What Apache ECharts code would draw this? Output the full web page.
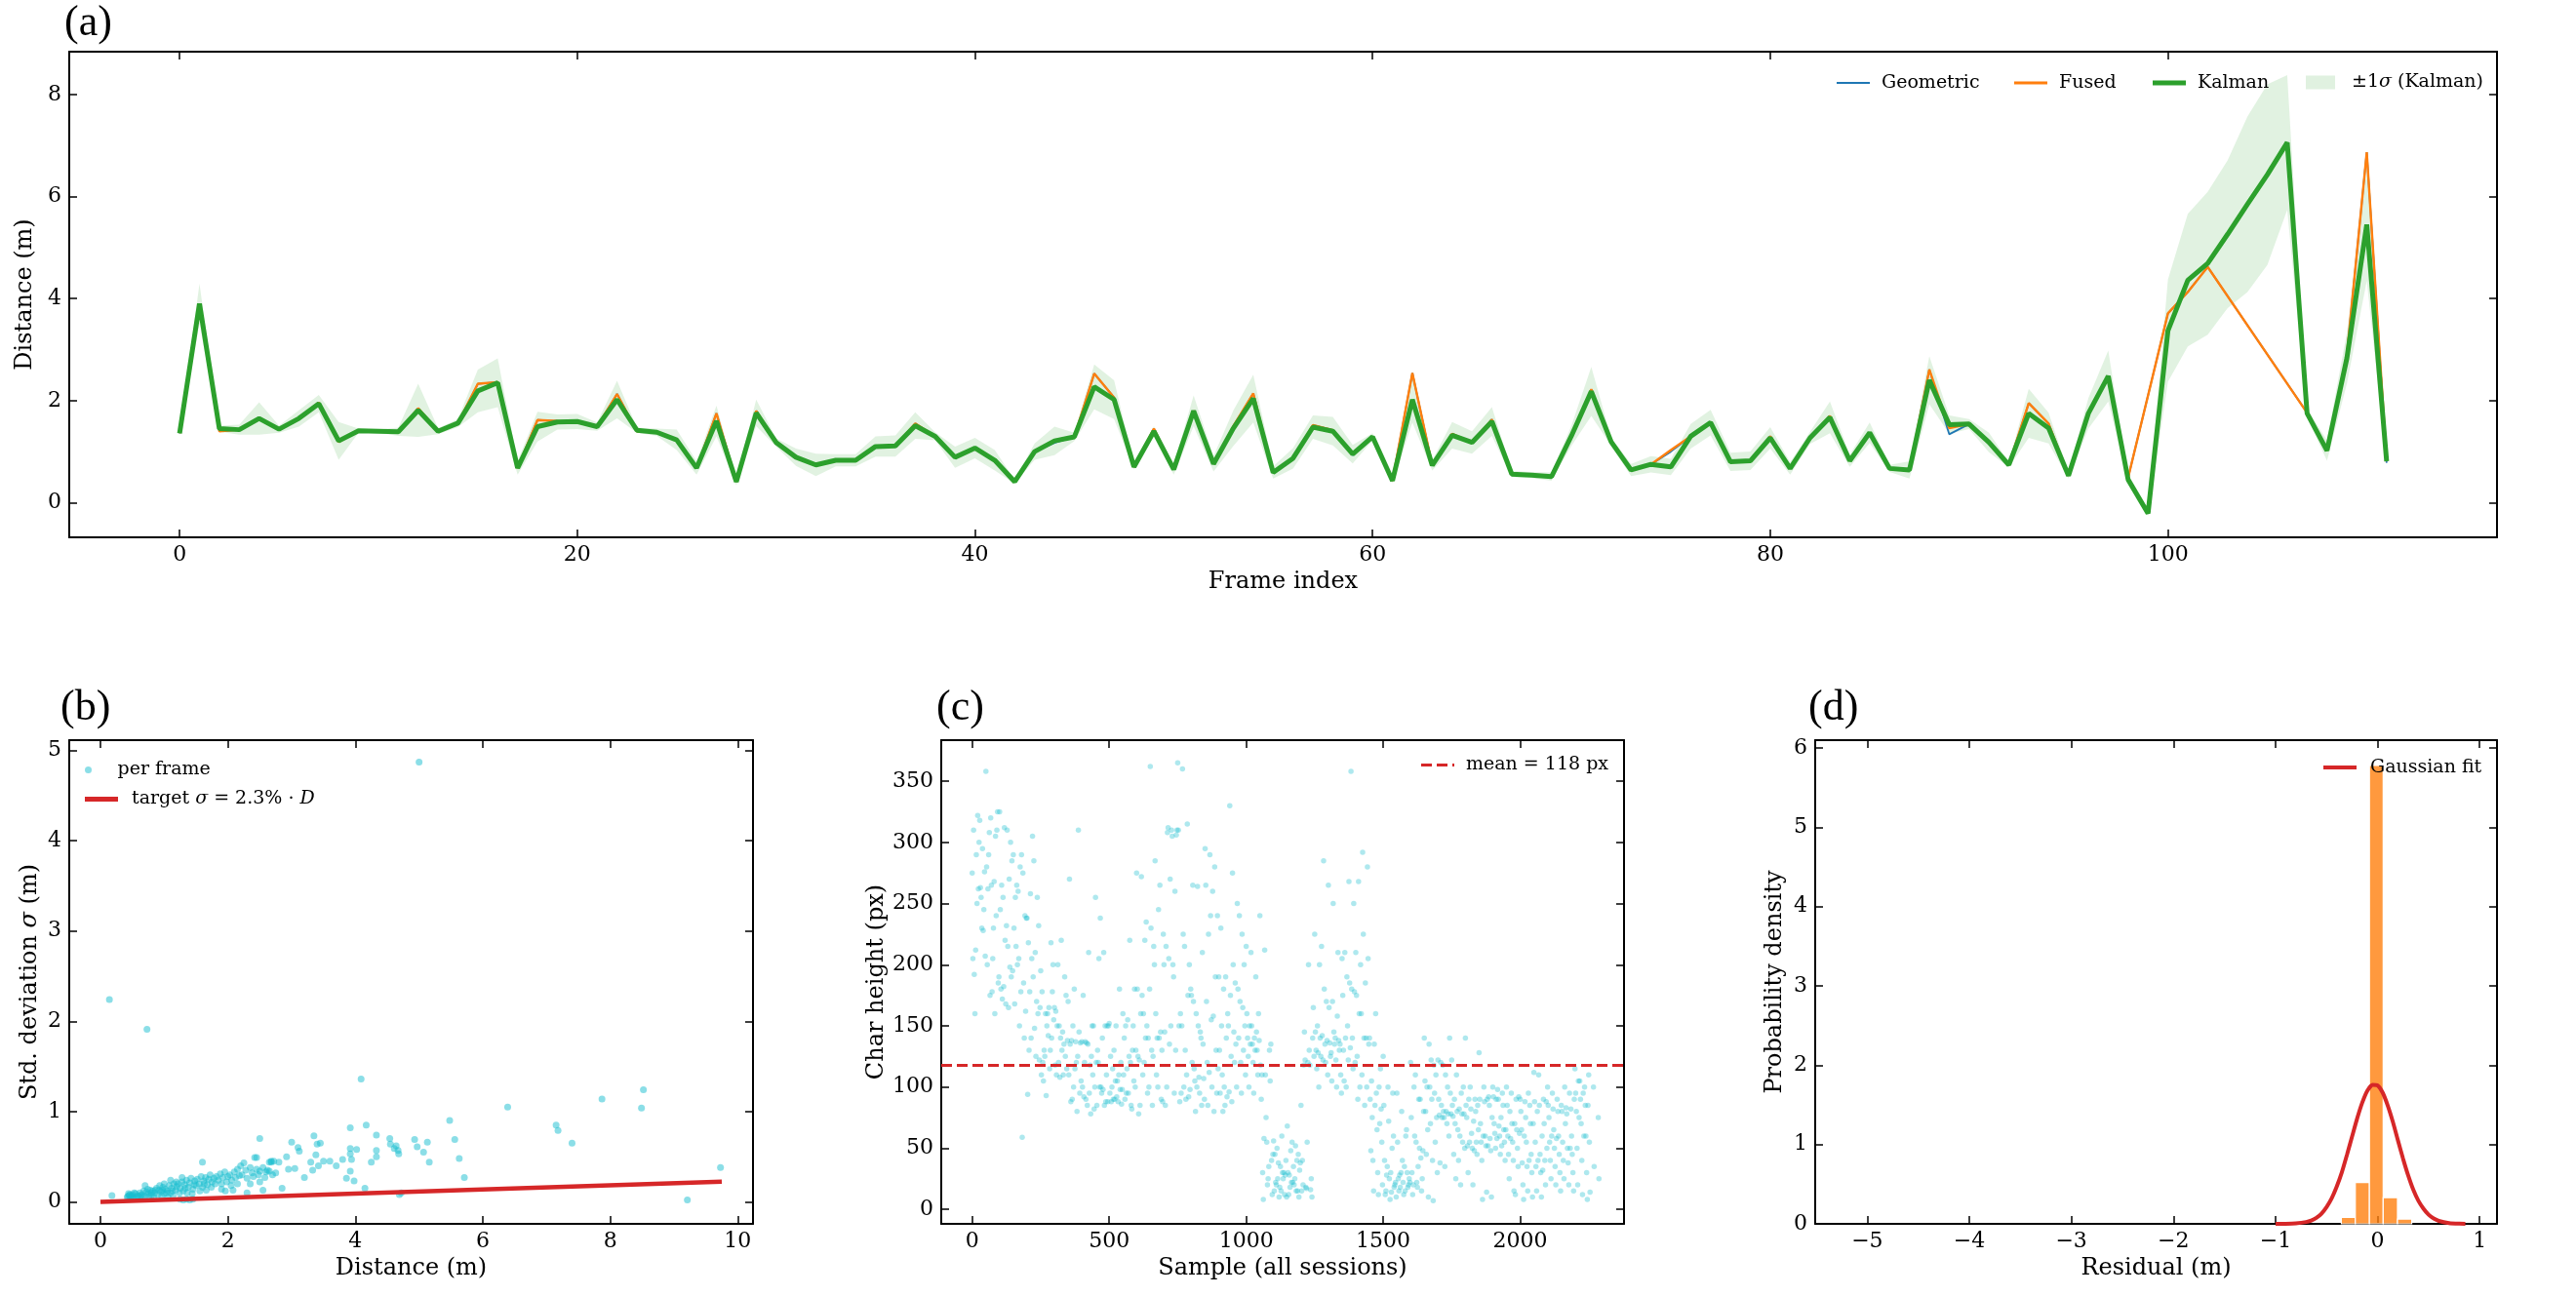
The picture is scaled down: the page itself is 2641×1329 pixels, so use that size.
<!DOCTYPE html>
<html>
<head>
<meta charset="utf-8">
<title>Distance estimation figure</title>
<script src="https://cdn.jsdelivr.net/npm/echarts@6/dist/echarts.min.js"></script>
<style>
html, body { margin: 0; padding: 0; background: #fff; }
#chart { width: 2641px; height: 1329px; }
</style>
</head>
<body>
<div id="chart"></div>
<script>
// ---------- (a) distance per frame ----------
const kalman = [
  1.36, 3.90, 1.45, 1.43, 1.65, 1.44, 1.65, 1.94, 1.21, 1.41,
  1.40, 1.39, 1.81, 1.40, 1.56, 2.19, 2.35, 0.68, 1.49, 1.58,
  1.59, 1.49, 2.02, 1.42, 1.38, 1.23, 0.68, 1.60, 0.41, 1.76,
  1.18, 0.89, 0.74, 0.83, 0.83, 1.10, 1.11, 1.51, 1.30, 0.89,
  1.07, 0.83, 0.41, 1.00, 1.21, 1.29, 2.27, 2.02, 0.70, 1.40,
  0.65, 1.80, 0.76, 1.46, 2.04, 0.59, 0.87, 1.48, 1.40, 0.95,
  1.29, 0.43, 2.02, 0.73, 1.32, 1.18, 1.59, 0.56, 0.54, 0.51,
  1.31, 2.18, 1.19, 0.64, 0.75, 0.70, 1.30, 1.57, 0.80, 0.82,
  1.27, 0.67, 1.27, 1.67, 0.82, 1.37, 0.67, 0.64, 2.40, 1.53,
  1.54, 1.18, 0.74, 1.75, 1.46, 0.53, 1.75, 2.48, 0.45, -0.21,
  3.37, 4.36, 4.69, 5.26, 5.85, 6.43, 7.06, 1.75, 1.02, 2.83,
  5.45, 0.81
];
const kalmanSigma = [
  0.05, 0.39, 0.06, 0.10, 0.32, 0.07, 0.16, 0.17, 0.37, 0.04,
  0.03, 0.08, 0.52, 0.06, 0.08, 0.42, 0.48, 0.13, 0.29, 0.15,
  0.15, 0.08, 0.37, 0.05, 0.07, 0.20, 0.13, 0.30, 0.07, 0.26,
  0.08, 0.17, 0.22, 0.12, 0.12, 0.20, 0.21, 0.26, 0.08, 0.21,
  0.20, 0.20, 0.04, 0.16, 0.28, 0.08, 0.44, 0.38, 0.05, 0.10,
  0.10, 0.30, 0.15, 0.35, 0.47, 0.12, 0.20, 0.23, 0.28, 0.18,
  0.07, 0.05, 0.45, 0.10, 0.26, 0.22, 0.28, 0.06, 0.06, 0.08,
  0.20, 0.48, 0.08, 0.12, 0.16, 0.16, 0.24, 0.25, 0.18, 0.18,
  0.21, 0.12, 0.12, 0.31, 0.12, 0.20, 0.07, 0.17, 0.47, 0.18,
  0.10, 0.19, 0.05, 0.48, 0.30, 0.06, 0.30, 0.50, 0.05, 0.05,
  1.00, 1.30, 1.40, 1.45, 1.72, 1.77, 1.32, 0.08, 0.20, 0.50,
  1.10, 0.05
];
// null = frame without a fused / geometric estimate (line goes straight across)
const fused = [
  1.36, 3.90, 1.40, 1.43, 1.65, 1.44, 1.65, 1.96, 1.19, 1.41,
  1.40, 1.39, 1.85, 1.40, 1.56, 2.33, 2.36, 0.68, 1.62, 1.60,
  1.59, 1.49, 2.13, 1.40, 1.38, 1.23, 0.68, 1.75, 0.41, 1.80,
  1.18, 0.89, 0.74, 0.83, 0.83, 1.10, 1.11, 1.55, 1.30, 0.89,
  1.07, 0.83, 0.41, 1.00, 1.21, 1.29, 2.53, 2.06, 0.70, 1.45,
  0.65, 1.80, 0.76, 1.50, 2.14, 0.59, 0.87, 1.52, 1.42, 0.95,
  1.29, 0.43, 2.54, 0.73, 1.35, 1.18, 1.63, 0.56, 0.54, 0.51,
  1.31, 2.22, 1.19, 0.64, 0.75, 1.03, 1.30, 1.57, 0.80, 0.82,
  1.30, 0.67, 1.27, 1.70, 0.82, 1.37, 0.67, 0.64, 2.61, 1.46,
  1.54, 1.18, 0.74, 1.95, 1.55, 0.53, 1.75, 2.48, 0.49, null,
  3.71, 4.13, 4.62, null, null, null, null, 1.76, 1.02, 2.90,
  6.87, 0.81
];
const geometric = [
  1.36, 3.90, 1.40, 1.43, 1.65, 1.44, 1.65, 1.96, 1.19, 1.41,
  1.40, 1.39, 1.85, 1.40, 1.56, 2.33, 2.36, 0.68, 1.62, 1.60,
  1.59, 1.49, 2.13, 1.40, 1.38, 1.23, 0.68, 1.75, 0.41, 1.80,
  1.18, 0.89, 0.74, 0.83, 0.83, 1.10, 1.11, 1.55, 1.30, 0.89,
  1.07, 0.83, 0.41, 1.00, 1.17, 1.29, 2.53, 2.06, 0.70, 1.45,
  0.65, 1.80, 0.76, 1.50, 2.14, 0.59, 0.87, 1.52, 1.42, 0.93,
  1.29, 0.43, 2.54, 0.73, 1.35, 1.18, 1.63, 0.56, 0.54, 0.51,
  1.31, 2.22, 1.19, 0.64, 0.75, 1.00, 1.30, 1.57, 0.80, 0.82,
  1.30, 0.67, 1.27, 1.70, 0.82, 1.37, 0.67, 0.64, 2.61, 1.34,
  1.54, 1.18, 0.74, 1.95, 1.55, 0.53, 1.75, 2.48, 0.49, null,
  3.71, 4.13, 4.62, null, null, null, null, 1.76, 1.02, 2.90,
  6.87, 0.78
];
const frameTicks = [0, 20, 40, 60, 80, 100];
const distTicks = [0, 2, 4, 6, 8];

// ---------- (b) std deviation vs distance ----------
const stdPoints = [
  [0.14, 2.24], [0.73, 1.91], [5.0, 4.87], [4.09, 1.36], [6.39, 1.05], [7.87, 1.14], [8.52, 1.24], [8.49, 1.04],
  [7.15, 0.85], [7.18, 0.79], [7.4, 0.65], [5.48, 0.9], [5.56, 0.69], [5.63, 0.48], [5.71, 0.27], [9.73, 0.38], [9.21, 0.02],
  [4.93, 0.69], [4.97, 0.61], [5.07, 0.55], [5.13, 0.66], [5.16, 0.44], [4.17, 0.85], [3.92, 0.82], [4.33, 0.74],
  [4.54, 0.7], [4.55, 0.64], [4.61, 0.59], [4.64, 0.62], [4.67, 0.57], [4.68, 0.53], [4.33, 0.57], [4.33, 0.5],
  [4.25, 0.44], [4.02, 0.58], [3.92, 0.59], [3.92, 0.53], [3.94, 0.47], [3.92, 0.34], [3.86, 0.26], [3.98, 0.23],
  [4.15, 0.15], [4.69, 0.08], [4.72, 0.1],
  [3.35, 0.73], [3.0, 0.66], [3.1, 0.6], [3.12, 0.56], [3.4, 0.64], [3.45, 0.65], [3.38, 0.52], [3.3, 0.44],
  [3.5, 0.45], [3.6, 0.45], [3.42, 0.4], [3.33, 0.35], [3.2, 0.27], [3.8, 0.47], [3.7, 0.4], [3.05, 0.37],
  [2.5, 0.7], [2.45, 0.49], [2.8, 0.44], [2.92, 0.5], [2.85, 0.15], [2.55, 0.13], [2.68, 0.45], [2.72, 0.45],
  [2.95, 0.36], [2.65, 0.34], [2.75, 0.32], [1.6, 0.44], [0.18, 0.07],
  [0.42, 0.05], [0.45, 0.07], [0.48, 0.06], [0.5, 0.08], [0.52, 0.05], [0.55, 0.09], [0.58, 0.07], [0.6, 0.06],
  [0.44, 0.09], [0.47, 0.04], [0.53, 0.1], [0.57, 0.05], [0.43, 0.06], [0.5, 0.06], [0.46, 0.08],
  [0.62, 0.1], [0.65, 0.08], [0.68, 0.12], [0.7, 0.06], [0.72, 0.11], [0.75, 0.09], [0.78, 0.13], [0.8, 0.07],
  [0.82, 0.12], [0.85, 0.1], [0.88, 0.15], [0.9, 0.08], [0.66, 0.05], [0.74, 0.14], [0.84, 0.05], [0.7, 0.18],
  [0.63, 0.07], [0.76, 0.06], [0.86, 0.13], [0.8, 0.1],
  [0.92, 0.13], [0.95, 0.11], [0.98, 0.16], [1.0, 0.09], [1.02, 0.14], [1.05, 0.12], [1.08, 0.18], [1.1, 0.1],
  [1.12, 0.15], [1.15, 0.2], [1.18, 0.13], [1.2, 0.17], [0.96, 0.06], [1.06, 0.05], [1.14, 0.07], [1.0, 0.2],
  [1.1, 0.24], [0.93, 0.18], [0.97, 0.13], [1.04, 0.1], [1.13, 0.12], [1.19, 0.22],
  [1.22, 0.2], [1.25, 0.15], [1.28, 0.22], [1.3, 0.12], [1.32, 0.19], [1.35, 0.24], [1.38, 0.16], [1.4, 0.21],
  [1.42, 0.26], [1.45, 0.14], [1.48, 0.23], [1.5, 0.18], [1.25, 0.03], [1.3, 0.02], [1.35, 0.03], [1.4, 0.02],
  [1.45, 0.03], [1.28, 0.27], [1.36, 0.1], [1.44, 0.09], [1.24, 0.1], [1.33, 0.15], [1.47, 0.19],
  [1.52, 0.25], [1.55, 0.2], [1.58, 0.28], [1.6, 0.16], [1.62, 0.23], [1.65, 0.27], [1.68, 0.19], [1.7, 0.25],
  [1.72, 0.3], [1.75, 0.22], [1.78, 0.26], [1.8, 0.2], [1.56, 0.12], [1.66, 0.13], [1.74, 0.16], [1.63, 0.2],
  [1.82, 0.28], [1.85, 0.24], [1.88, 0.31], [1.9, 0.2], [1.92, 0.27], [1.95, 0.33], [1.98, 0.22], [2.0, 0.28],
  [2.03, 0.3], [2.06, 0.24], [2.1, 0.33], [2.12, 0.27], [2.15, 0.36], [2.18, 0.29], [2.2, 0.4], [1.9, 0.14],
  [2.05, 0.18], [2.15, 0.2], [1.96, 0.12], [2.08, 0.13],
  [2.22, 0.3], [2.25, 0.43], [2.28, 0.35], [2.3, 0.26], [2.35, 0.38], [2.38, 0.32], [2.4, 0.28], [2.45, 0.36],
  [2.48, 0.3], [2.5, 0.34], [2.55, 0.38], [2.6, 0.33], [2.62, 0.35], [2.65, 0.44], [2.68, 0.44], [2.7, 0.3],
  [2.3, 0.1], [2.42, 0.49], [2.5, 0.22], [2.58, 0.27], [2.35, 0.2]
];
const targetX = [0, 9.75];
const targetY = [0, 0.224];
const bTicksX = [0, 2, 4, 6, 8, 10];
const bTicksY = [0, 1, 2, 3, 4, 5];

// ---------- (c) char height per sample ----------
const sampleStep = 2.5;          // one value every 2.5 samples
const blockLen = 20;             // values per 50-sample block
const slotOrder = [0, 7, 14, 1, 8, 15, 2, 9, 16, 3, 10, 17, 4, 11, 18, 5, 12, 19, 6, 13];
const charHeight = [
  275,250,230,205,322,295,310,262,228,192,300,245,160,318,276,212,263,207,290,255,
  358,320,305,280,265,240,200,178,310,262,205,325,290,230,185,308,268,190,175,160,
  325,312,270,245,220,198,180,168,300,265,232,190,172,310,285,255,215,195,182,165,
  290,260,275,230,205,185,168,150,140,255,280,240,215,178,162,265,290,238,200,59,
  238,205,170,94,305,255,218,190,160,130,285,232,178,148,122,258,210,165,140,125,
  195,160,130,110,93,218,178,150,140,120,160,178,105,142,200,130,165,155,125,115,
  165,150,135,118,108,190,162,140,125,110,220,175,150,130,115,200,145,138,120,110,
  170,150,125,110,100,310,270,180,145,135,115,95,88,137,136,138,120,105,90,80,
  137,136,125,100,85,150,175,135,110,92,210,150,120,95,82,137,118,100,90,78,
  255,238,150,120,100,88,85,95,110,130,140,150,120,98,88,205,210,150,100,85,
  152,130,110,95,90,180,125,105,98,88,150,120,100,92,86,115,105,98,90,88,
  160,155,130,110,95,150,140,125,105,90,220,180,150,120,100,95,85,130,115,82,
  275,272,235,180,175,150,125,110,95,78,160,140,122,120,100,85,220,180,160,140,
  362,285,265,230,160,145,130,110,90,85,140,130,125,100,88,215,245,225,200,140,
  200,205,190,145,135,95,85,270,260,215,150,130,100,310,306,308,305,310,312,200,
  365,360,315,310,225,175,150,100,92,88,215,200,160,130,98,95,90,180,150,110,
  175,160,140,120,100,85,265,264,210,170,150,135,115,108,107,105,95,90,80,145,
  295,290,280,265,240,190,170,155,130,120,100,95,85,260,240,225,158,115,112,80,
  190,180,150,130,100,96,95,85,330,230,190,175,150,140,125,110,92,88,80,160,
  275,250,225,200,180,165,145,140,130,120,240,200,185,170,150,135,120,110,100,95,
  215,210,190,160,150,145,140,135,130,125,120,110,100,95,160,150,140,138,135,130,
  240,212,130,118,110,105,90,75,135,110,55,40,30,20,12,8,25,45,58,35,
  56,38,25,15,10,30,45,18,12,22,35,28,20,15,40,50,60,10,25,30,
  68,55,40,30,22,15,12,35,45,28,20,10,18,25,32,48,52,38,22,15,
  85,18,16,15,17,25,40,55,10,20,120,140,118,200,165,145,130,125,122,118,
  225,200,180,145,140,135,130,125,120,115,215,170,150,142,138,128,122,110,100,285,
  265,250,210,165,145,138,136,135,130,125,140,135,128,122,110,105,100,95,170,158,
  205,190,180,175,150,140,130,122,115,105,268,250,210,185,178,140,132,120,100,358,
  210,200,185,175,160,140,125,110,100,90,292,280,268,225,205,160,140,135,100,85,
  140,135,100,90,85,70,48,160,115,105,95,82,75,65,55,40,30,20,15,12,
  125,100,95,85,72,60,40,25,18,12,8,20,15,30,22,28,14,10,35,50,
  95,80,65,55,40,30,25,22,18,15,12,20,28,35,25,18,15,22,30,60,
  120,110,90,75,55,42,30,22,15,12,18,25,20,35,48,100,90,80,60,50,
  140,135,118,105,100,95,80,70,55,45,122,110,100,90,75,65,40,30,10,7,
  122,118,100,90,80,78,77,75,60,38,35,140,120,110,95,85,80,78,75,70,
  122,110,95,85,80,78,76,65,55,45,40,100,90,82,78,70,60,50,25,20,
  140,100,90,85,82,80,75,62,55,52,50,45,30,20,85,90,72,65,55,48,
  128,100,92,90,88,85,70,60,58,55,52,48,40,14,10,8,90,75,60,52,
  100,98,95,92,90,85,70,68,65,62,60,55,50,45,40,90,75,65,58,52,
  100,95,90,85,70,65,60,55,50,45,40,35,25,15,92,80,70,62,58,12,
  90,88,85,80,75,70,65,55,45,38,35,30,20,15,10,8,95,70,60,40,
  112,110,90,88,85,70,55,45,40,35,30,20,15,10,88,80,60,50,40,32,
  100,95,90,85,82,80,75,65,60,55,50,45,40,35,30,25,20,15,60,58,
  85,83,82,80,78,60,55,50,45,40,38,30,25,20,15,100,95,90,70,50,
  115,105,100,95,90,85,80,70,60,50,40,30,20,12,8,105,95,85,75,60,
  110,100,75,55,35,25,14
];
const meanHeight = 118;
const cTicksX = [0, 500, 1000, 1500, 2000];
const cTicksY = [0, 50, 100, 150, 200, 250, 300, 350];

// ---------- (d) residual histogram ----------
// [left edge, right edge, density]
const histBins = [
  [-0.355, -0.218, 0.08],
  [-0.218, -0.080, 0.52],
  [-0.080, 0.055, 5.78],
  [0.055, 0.195, 0.33],
  [0.195, 0.335, 0.06]
];
const fitX = [-1.0, -0.9, -0.8, -0.7, -0.65, -0.6, -0.55, -0.5, -0.45, -0.4, -0.35, -0.3, -0.25, -0.2, -0.15, -0.1, -0.05,
  0, 0.05, 0.1, 0.15, 0.2, 0.25, 0.3, 0.35, 0.4, 0.45, 0.5, 0.55, 0.6, 0.7, 0.8, 0.86];
const fitY = [0.0002, 0.001, 0.006, 0.023, 0.042, 0.075, 0.128, 0.21, 0.32, 0.47, 0.65, 0.87, 1.10, 1.33, 1.53, 1.68, 1.753,
  1.745, 1.654, 1.49, 1.285, 1.05, 0.82, 0.61, 0.43, 0.29, 0.19, 0.115, 0.067, 0.037, 0.01, 0.002, 0.001];
const dTicksX = [-5, -4, -3, -2, -1, 0, 1];
const dTicksY = [0, 1, 2, 3, 4, 5, 6];

// ---------- chart ----------
const FONT = 'DejaVu Serif';
const TICK_SIZE = 22;
const NAME_SIZE = 24;
const LEG_SIZE = 19;
const chart = echarts.init(document.getElementById('chart'));

const xAxes = [];
const yAxes = [];

function addAxes(gridIndex, c) {
  const line = { show: true, onZero: false, lineStyle: { color: '#000', width: 2 } };
  const tick = vals => ({ show: true, inside: true, length: 8, customValues: vals, lineStyle: { color: '#000', width: 1.5 } });
  const label = (vals, fmt, margin) => ({
    show: true, customValues: vals, color: '#000', fontFamily: FONT, fontSize: TICK_SIZE, margin: margin,
    formatter: fmt || (v => String(v))
  });
  const nameStyle = {
    color: '#000', fontFamily: FONT, fontSize: NAME_SIZE,
    rich: { i: { fontStyle: 'italic', fontFamily: FONT, fontSize: NAME_SIZE, color: '#000' } }
  };
  xAxes.push({
    type: 'value', gridIndex, position: 'bottom', min: c.x[0], max: c.x[1],
    axisLine: line, axisTick: tick(c.xt), axisLabel: label(c.xt, c.xf, 7), splitLine: { show: false },
    name: c.xn, nameLocation: 'middle', nameGap: c.xg, nameTextStyle: nameStyle
  });
  xAxes.push({
    type: 'value', gridIndex, position: 'top', min: c.x[0], max: c.x[1],
    axisLine: line, axisTick: tick(c.xt), axisLabel: { show: false }, splitLine: { show: false }
  });
  yAxes.push({
    type: 'value', gridIndex, position: 'left', min: c.y[0], max: c.y[1],
    axisLine: line, axisTick: tick(c.yt), axisLabel: label(c.yt, c.yf, 8), splitLine: { show: false },
    name: c.yn, nameLocation: 'middle', nameGap: c.yg, nameTextStyle: nameStyle
  });
  yAxes.push({
    type: 'value', gridIndex, position: 'right', min: c.y[0], max: c.y[1],
    axisLine: line, axisTick: tick(c.yt), axisLabel: { show: false }, splitLine: { show: false }
  });
}

const minus = v => (v < 0 ? '\u2212' + (-v) : String(v));

addAxes(0, { x: [-5.55, 116.55], xt: frameTicks, xn: 'Frame index', xg: 34,
             y: [-0.68, 8.84], yt: distTicks, yn: 'Distance (m)', yg: 25 });
addAxes(1, { x: [-0.49, 10.24], xt: bTicksX, xn: 'Distance (m)', xg: 34,
             y: [-0.244, 5.114], yt: bTicksY, yn: 'Std. deviation {i|σ} (m)', yg: 28 });
addAxes(2, { x: [-113, 2379], xt: cTicksX, xn: 'Sample (all sessions)', xg: 34,
             y: [-11.85, 383.6], yt: cTicksY, yn: 'Char height (px)', yg: 54 });
addAxes(3, { x: [-5.51, 1.17], xt: dTicksX, xf: minus, xn: 'Residual (m)', xg: 34,
             y: [0, 6.1], yt: dTicksY, yn: 'Probability density', yg: 29 });

const pairs = arr => arr.map((v, i) => [i, v]).filter(d => d[1] !== null);
const cPoints = charHeight.map((h, k) => {
  const block = Math.floor(k / blockLen);
  const slot = slotOrder[k % blockLen];
  return [(block * blockLen + slot) * sampleStep, h];
});

const italicLeg = { i: { fontStyle: 'italic', fontFamily: FONT, fontSize: LEG_SIZE, color: '#000' } };
function legendItem(item, left, top, opts, padLeft) {
  return Object.assign({
    data: [item], left, top, padding: 0, itemWidth: 34, selectedMode: false,
    textStyle: { color: '#000', fontFamily: FONT, fontSize: LEG_SIZE, padding: [0, 0, 0, padLeft], rich: italicLeg }
  }, opts);
}

const option = {
  animation: false,
  backgroundColor: '#fff',
  title: [
    { text: '(a)', left: 66, top: 2 },
    { text: '(b)', left: 62, top: 704 },
    { text: '(c)', left: 960, top: 704 },
    { text: '(d)', left: 1854, top: 704 }
  ].map(t => Object.assign(t, { padding: 0, textStyle: { fontFamily: 'Liberation Serif', fontSize: 44, fontWeight: 'normal', color: '#000' } })),
  grid: [
    { left: 71, top: 53, width: 2489, height: 498 },
    { left: 71, top: 759, width: 701, height: 496 },
    { left: 965, top: 759, width: 700, height: 496 },
    { left: 1861, top: 759, width: 699, height: 496 }
  ],
  xAxis: xAxes,
  yAxis: yAxes,
  legend: [
    legendItem({ name: 'Geometric', icon: 'rect' }, 1883, 75.5, { itemHeight: 2 }, 7),
    legendItem({ name: 'Fused', icon: 'rect' }, 2065, 75.5, { itemHeight: 3 }, 7),
    legendItem({ name: 'Kalman', icon: 'rect' }, 2207, 75.5, { itemHeight: 5 }, 7),
    legendItem({ name: '±1σ (Kalman)', icon: 'rect', itemStyle: { color: 'rgba(44,160,44,0.15)' } }, 2364, 75,
      { itemWidth: 30, itemHeight: 14, formatter: () => '±1{i|σ} (Kalman)' }, 12),
    legendItem({ name: 'per frame', icon: 'circle' }, 87, 780, { itemHeight: 7 }, 8),
    legendItem({ name: 'target', icon: 'rect' }, 87, 810, { itemHeight: 5, formatter: () => 'target {i|σ} = 2.3% · {i|D}' }, 9),
    legendItem({ name: 'mean = 118 px', icon: 'path://M0,0H11V3H0Z M16,0H27V3H16Z M32,0H34V3H32Z' }, 1457, 775, { itemHeight: 3 }, 7),
    legendItem({ name: 'Gaussian fit', icon: 'rect' }, 2382, 777.5, { itemHeight: 4 }, 9)
  ],
  series: [
    // (a) ±1σ band drawn as one polygon through the axis scales
    {
      name: '±1σ (Kalman)', type: 'custom', xAxisIndex: 0, yAxisIndex: 0, silent: true, z: 1, clip: true,
      itemStyle: { color: 'rgba(44,160,44,0.15)' },
      encode: { x: 0, y: [1, 2] },
      data: kalman.map((k, i) => [i, k - kalmanSigma[i], k + kalmanSigma[i]]),
      renderItem: (params, api) => {
        if (params.dataIndex !== 0) return null;
        const upper = [];
        const lower = [];
        for (let i = 0; i < kalman.length; i++) {
          upper.push(api.coord([i, kalman[i] + kalmanSigma[i]]));
          lower.push(api.coord([i, kalman[i] - kalmanSigma[i]]));
        }
        return {
          type: 'polygon',
          shape: { points: upper.concat(lower.reverse()) },
          style: { fill: 'rgba(44,160,44,0.14)' }
        };
      }
    },
    {
      name: 'Geometric', type: 'line', xAxisIndex: 0, yAxisIndex: 0, symbol: 'none', z: 2,
      lineStyle: { color: '#1f77b4', width: 1.8 }, itemStyle: { color: '#1f77b4' },
      data: pairs(geometric)
    },
    {
      name: 'Fused', type: 'line', xAxisIndex: 0, yAxisIndex: 0, symbol: 'none', z: 3,
      lineStyle: { color: '#ff7f0e', width: 2.4 }, itemStyle: { color: '#ff7f0e' },
      data: pairs(fused)
    },
    {
      name: 'Kalman', type: 'line', xAxisIndex: 0, yAxisIndex: 0, symbol: 'none', z: 4,
      lineStyle: { color: '#2ca02c', width: 5 }, itemStyle: { color: '#2ca02c' },
      data: pairs(kalman)
    },
    // (b)
    {
      name: 'per frame', type: 'scatter', xAxisIndex: 2, yAxisIndex: 2, symbolSize: 7, silent: true,
      itemStyle: { color: '#17becf', opacity: 0.5 },
      data: stdPoints
    },
    {
      name: 'target', type: 'line', xAxisIndex: 2, yAxisIndex: 2, symbol: 'none', z: 3,
      lineStyle: { color: '#d62728', width: 4.5 }, itemStyle: { color: '#d62728' },
      data: targetX.map((x, i) => [x, targetY[i]])
    },
    // (c)
    {
      name: 'samples', type: 'scatter', xAxisIndex: 4, yAxisIndex: 4, symbolSize: 5.5, silent: true,
      itemStyle: { color: '#17becf', opacity: 0.35 },
      data: cPoints
    },
    {
      name: 'mean = 118 px', type: 'line', xAxisIndex: 4, yAxisIndex: 4, symbol: 'none', data: [],
      lineStyle: { color: '#d62728', width: 3, type: [11, 5] }, itemStyle: { color: '#d62728' },
      markLine: {
        silent: true, symbol: ['none', 'none'], label: { show: false },
        lineStyle: { color: '#d62728', width: 3, type: [11, 5] },
        data: [{ yAxis: meanHeight }]
      }
    },
    // (d)
    {
      type: 'custom', xAxisIndex: 6, yAxisIndex: 6, silent: true, z: 2,
      encode: { x: [0, 1], y: 2 },
      data: histBins,
      renderItem: (params, api) => {
        const p0 = api.coord([api.value(0), api.value(2)]);
        const p1 = api.coord([api.value(1), 0]);
        return {
          type: 'rect',
          shape: { x: p0[0], y: p0[1], width: p1[0] - p0[0], height: p1[1] - p0[1] },
          style: { fill: 'rgba(255,127,14,0.8)', stroke: '#fff', lineWidth: 1.2 }
        };
      }
    },
    {
      name: 'Gaussian fit', type: 'line', xAxisIndex: 6, yAxisIndex: 6, symbol: 'none', smooth: 0.2, z: 3,
      lineStyle: { color: '#d62728', width: 4 }, itemStyle: { color: '#d62728' },
      data: fitX.map((x, i) => [x, fitY[i]])
    }
  ]
};

chart.setOption(option);
</script>
</body>
</html>
